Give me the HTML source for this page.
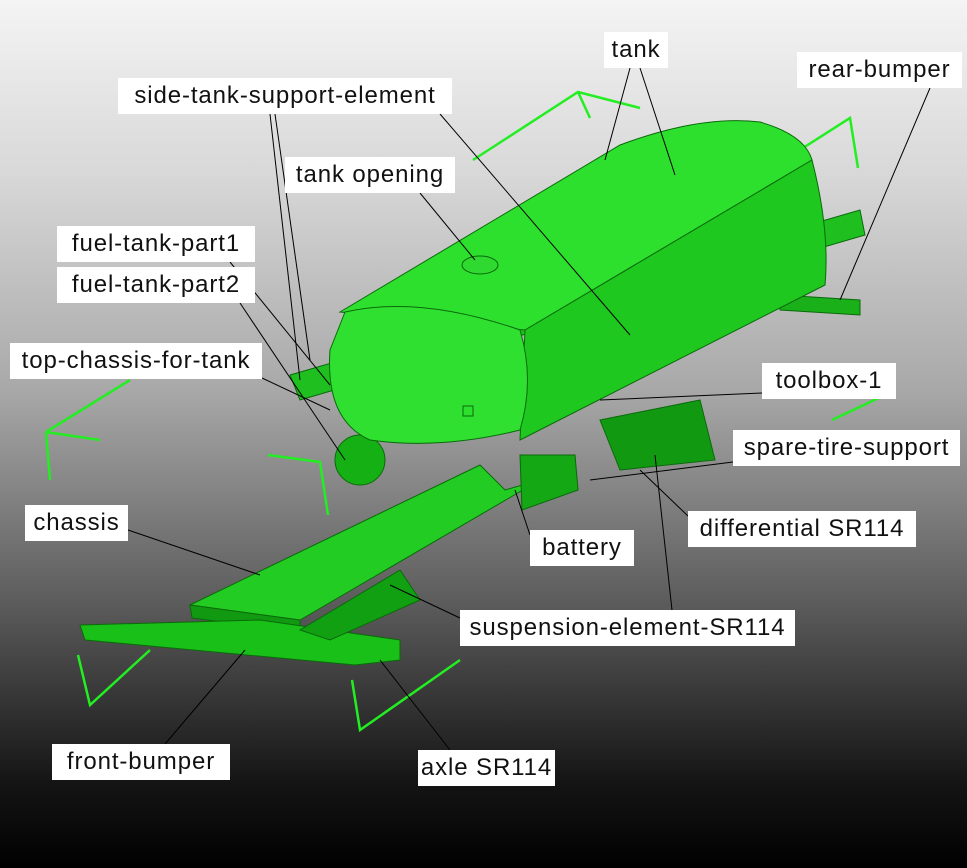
<!DOCTYPE html>
<html><head><meta charset="utf-8"><style>
html,body{margin:0;padding:0}
body{width:967px;height:868px;position:relative;overflow:hidden;background:linear-gradient(180deg,#f4f4f4 0%,#d8d8d8 20%,#a8a8a8 45%,#5a5a5a 70%,#151515 90%,#000 100%);font-family:"Liberation Sans",sans-serif}
.l{position:absolute;background:#fff;font-size:24px;letter-spacing:0.9px;line-height:36px;height:36px;text-align:center;color:#111;white-space:nowrap;overflow:hidden}
svg{position:absolute;left:0;top:0}
</style></head><body>
<svg width="967" height="868">
<g fill="none" stroke="#22ee22" stroke-width="2.5">
<polyline points="473,160 578,92 640,108"/>
<polyline points="578,92 590,118"/>
<polyline points="745,185 850,118 858,168"/>
<polyline points="46,432 100,440"/><polyline points="46,432 50,480"/><polyline points="46,432 130,380"/>
<polyline points="268,455 320,462 328,515"/>
<polyline points="78,655 90,705 150,650"/>
<polyline points="352,680 360,730 460,660"/>
<polyline points="832,420 885,395"/>
</g>
<g stroke="#0a6a0a" stroke-width="1">
<polygon points="190,605 480,465 505,490 540,480 300,620" fill="#22cc22"/>
<polygon points="190,605 300,620 300,632 192,618" fill="#119911"/>
<polygon points="80,625 260,620 400,640 400,660 355,665 85,640" fill="#18c018"/>
<polygon points="290,375 860,210 865,235 300,400" fill="#1fbf1f"/>
<polygon points="780,295 860,300 860,315 780,310" fill="#19b019"/>
<polygon points="520,455 575,455 578,490 522,510" fill="#15a815"/>
<polygon points="600,420 700,400 715,460 620,470" fill="#119a11"/>
<polygon points="300,630 400,570 420,600 330,640" fill="#11a011"/>
<ellipse cx="360" cy="460" rx="25" ry="25" fill="#14b014"/>
<path d="M340,312 L620,145 Q700,115 760,122 Q805,135 812,160 L525,330 Z" fill="#2ee02e"/>
<path d="M525,330 L812,160 Q830,230 825,285 L520,440 Z" fill="#1fc81f"/>
<path d="M345,312 Q420,295 520,330 Q535,380 520,430 Q440,450 370,440 Q325,420 330,350 Z" fill="#30e030"/>
<ellipse cx="480" cy="265" rx="18" ry="9" fill="#2fd92f"/>
<rect x="463" y="406" width="10" height="10" fill="#2ee02e"/>
</g>
<g stroke="#000" stroke-width="1" fill="none">
<line x1="630" y1="68" x2="605" y2="160"/><line x1="640" y1="68" x2="675" y2="175"/>
<line x1="930" y1="88" x2="840" y2="300"/>
<line x1="275" y1="114" x2="310" y2="360"/><line x1="270" y1="114" x2="300" y2="380"/>
<line x1="440" y1="114" x2="630" y2="335"/>
<line x1="420" y1="193" x2="475" y2="260"/>
<line x1="230" y1="262" x2="330" y2="385"/>
<line x1="240" y1="303" x2="345" y2="460"/>
<line x1="262" y1="378" x2="330" y2="410"/>
<line x1="762" y1="393" x2="600" y2="400"/>
<line x1="733" y1="462" x2="590" y2="480"/>
<line x1="128" y1="530" x2="260" y2="575"/>
<line x1="688" y1="516" x2="640" y2="470"/>
<line x1="530" y1="535" x2="515" y2="490"/>
<line x1="672" y1="610" x2="655" y2="455"/><line x1="460" y1="618" x2="390" y2="585"/>
<line x1="165" y1="744" x2="245" y2="650"/>
<line x1="450" y1="750" x2="380" y2="660"/>
</g>
</svg>
<div class="l" style="left:604px;top:32px;width:64px">tank</div>
<div class="l" style="left:797px;top:52px;width:165px">rear-bumper</div>
<div class="l" style="left:118px;top:78px;width:334px">side-tank-support-element</div>
<div class="l" style="left:285px;top:157px;width:170px">tank opening</div>
<div class="l" style="left:57px;top:226px;width:198px">fuel-tank-part1</div>
<div class="l" style="left:57px;top:267px;width:198px">fuel-tank-part2</div>
<div class="l" style="left:10px;top:343px;width:252px">top-chassis-for-tank</div>
<div class="l" style="left:762px;top:363px;width:134px">toolbox-1</div>
<div class="l" style="left:733px;top:430px;width:227px">spare-tire-support</div>
<div class="l" style="left:25px;top:505px;width:103px">chassis</div>
<div class="l" style="left:688px;top:511px;width:228px">differential SR114</div>
<div class="l" style="left:530px;top:530px;width:104px">battery</div>
<div class="l" style="left:460px;top:610px;width:335px">suspension-element-SR114</div>
<div class="l" style="left:52px;top:744px;width:178px">front-bumper</div>
<div class="l" style="left:418px;top:750px;width:137px">axle SR114</div>
</body></html>
